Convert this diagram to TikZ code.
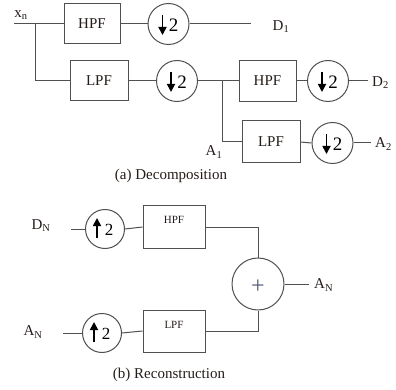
\documentclass[tikz,border=0pt]{standalone}
\usepackage{fontspec}
\setmainfont{Liberation Serif}
\usetikzlibrary{calc,arrows.meta}
\definecolor{lncol}{RGB}{80,80,80}
\definecolor{txt}{RGB}{35,28,25}
\definecolor{pluscol}{RGB}{80,90,120}
\begin{document}
\begin{tikzpicture}[x=1pt,y=-1pt,
  wire/.style={draw=lncol,line width=1pt},
  filt/.style={draw=lncol,line width=1pt,rectangle,inner sep=0pt,text=txt,font=\fontsize{15}{17}\selectfont},
  sfilt/.style={draw=lncol,line width=1pt,rectangle,inner sep=0pt,minimum width=62pt,minimum height=42pt},
  ring/.style={draw=lncol,line width=1pt,circle,inner sep=0pt,minimum size=41pt},
  sring/.style={draw=lncol,line width=1pt,circle,inner sep=0pt,minimum size=39pt},
  lbl/.style={text=txt,font=\fontsize{15}{17}\selectfont,inner sep=0pt},
  captxt/.style={text=txt,font=\fontsize{15}{17}\selectfont,inner sep=0pt},
  two/.style={text=black,font=\fontsize{19}{21}\selectfont,inner sep=0pt},
  stwo/.style={text=black,font=\fontsize{17}{19}\selectfont,inner sep=0pt},
  sm/.style={text=txt,font=\fontsize{11}{13}\selectfont,inner sep=0pt},
  darr/.style={line width=1.7pt,draw=black,-{Triangle[length=8pt,width=8pt]}}
]
\useasboundingbox (0,0) rectangle (396,390);

% ---------- (a) Decomposition ----------
\node[lbl] (xn) at (21,15) {x\textsubscript{n}};
\coordinate (xin) at (14,24);
\coordinate (b1) at (35,24);
\node[filt,minimum width=56pt,minimum height=40pt] (hpf1) at (92,24) {HPF};
\node[ring] (c1) at (168.5,24) {};
\node[filt,minimum width=58pt,minimum height=40pt] (lpf1) at (99,81) {LPF};
\node[ring] (c2) at (177,81) {};
\coordinate (d1end) at (251,24);
\node[lbl] (d1) at (281,27) {D\textsubscript{1}};

\coordinate (b2) at (222,81);
\node[filt,minimum width=57pt,minimum height=41pt] (hpf2) at (267.5,81) {HPF};
\node[ring] (c3) at (328,81) {};
\node[filt,minimum width=58pt,minimum height=42pt] (lpf2) at (271,142) {LPF};
\node[ring] (c4) at (332.5,143) {};
\coordinate (d2end) at (368,81);
\node[lbl,anchor=west] (d2) at (372,83) {D\textsubscript{2}};
\coordinate (a2end) at (371,143);
\node[lbl,anchor=west] (a2) at (375,144) {A\textsubscript{2}};
\node[lbl] (a1) at (214,152) {A\textsubscript{1}};
\node[captxt] (capa) at (171,176) {(a) Decomposition};

\draw[wire] (xin) -- (hpf1.west);
\draw[wire] (b1) |- (lpf1.west);
\draw[wire] (hpf1.east) -- (c1.west);
\draw[wire] (c1.east) -- (d1end);
\draw[wire] (lpf1.east) -- (c2.west);
\draw[wire] (c2.east) -- (hpf2.west);
\draw[wire] (b2) |- (lpf2.west);
\draw[wire] (hpf2.east) -- (c3.west);
\draw[wire] (c3.east) -- (d2end);
\draw[wire] (lpf2.east) -- (c4.west);
\draw[wire] (c4.east) -- (a2end);

\foreach \c in {c1,c2,c3,c4}{
  \draw[darr] ($(\c)+(-6,-9)$) -- ($(\c)+(-6,11)$);
  \node[two] at ($(\c)+(5,1)$) {2};
}

% ---------- (b) Reconstruction ----------
\node[lbl] (dn) at (41,226) {D\textsubscript{N}};
\coordinate (dnin) at (71,229);
\node[sring] (c5) at (105,229) {};
\node[sfilt] (hpf3) at (174,227) {};
\node[sm] (hpft) at (174,220) {HPF};

\node[lbl] (an) at (33,332) {A\textsubscript{N}};
\coordinate (anin) at (63,333);
\node[sring] (c6) at (102,333) {};
\node[sfilt] (lpf3) at (174,331) {};
\node[sm] (lpft) at (174,325) {LPF};

\node[draw=lncol,line width=1pt,circle,inner sep=0pt,minimum size=52pt] (sum) at (258,284) {};
\node[text=pluscol,font=\fontsize{24}{26}\selectfont,inner sep=0pt] (plus) at (258,287) {+};
\coordinate (outend) at (309,284);
\node[lbl,anchor=west] (ano) at (314,285) {A\textsubscript{N}};
\node[captxt] (capb) at (169,375) {(b) Reconstruction};

\draw[wire] (dnin) -- (c5.west);
\draw[wire] (c5.east) -- (hpf3.west);
\draw[wire] (anin) -- (c6.west);
\draw[wire] (c6.east) -- (lpf3.west);
\draw[wire] (hpf3.east) -| (sum.north);
\draw[wire] (lpf3.east) -| (sum.south);
\draw[wire] (sum.east) -- (outend);

\foreach \c in {c5,c6}{
  \draw[darr] ($(\c)+(-8,9)$) -- ($(\c)+(-8,-11)$);
  \node[stwo] at ($(\c)+(4,1)$) {2};
}
\end{tikzpicture}
\end{document}
